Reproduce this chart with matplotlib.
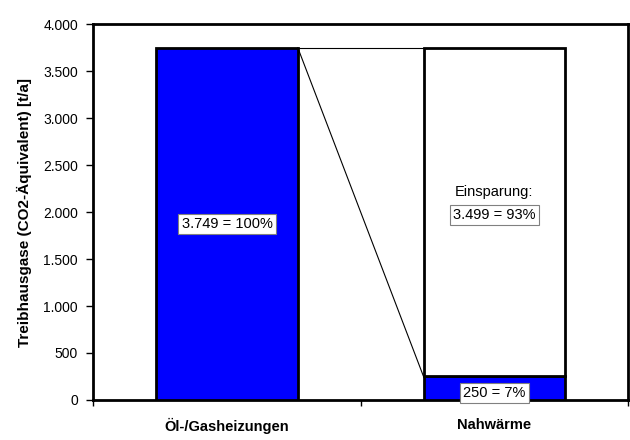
import matplotlib
matplotlib.use("Agg")
import matplotlib.pyplot as plt
from matplotlib.ticker import FuncFormatter, FixedLocator

# Data
categories = ["Öl-/Gasheizungen", "Nahwärme"]
remaining = [3749, 250]          # blue part
savings = [0, 3499]              # white part stacked on top
labels_blue = ["3.749 = 100%", "250 = 7%"]
saving_label = "3.499 = 93%"
saving_title = "Einsparung:"
y_ticks = list(range(0, 4001, 500))

BLUE = "#0000FF"
FONT = "Liberation Sans"
plt.rcParams["font.family"] = [FONT, "DejaVu Sans"]

fig = plt.figure(figsize=(6.3, 4.4), dpi=100)
ax = fig.add_axes([0.148, 0.091, 0.849, 0.854])

x = list(range(len(categories)))
width = 0.53
ax.bar(x, remaining, width=width, color=BLUE, edgecolor="black", linewidth=2, zorder=3)
ax.bar(x[1], savings[1], bottom=remaining[1], width=width, color="white",
       edgecolor="black", linewidth=2, zorder=3)

# series lines connecting the bars
x0 = x[0] + width / 2
x1 = x[1] - width / 2
ax.plot([x0, x1], [remaining[0], remaining[1] + savings[1]], color="black", lw=0.8, zorder=2)
ax.plot([x0, x1], [remaining[0], remaining[1]], color="black", lw=0.8, zorder=2)

box = dict(boxstyle="square,pad=0.22", facecolor="white", edgecolor="#808080", linewidth=0.8)
ax.text(x[0], remaining[0] / 2, labels_blue[0], ha="center", va="center",
        fontsize=10.5, bbox=box, zorder=5)
ax.text(x[1], 75, labels_blue[1], ha="center", va="center",
        fontsize=10.5, bbox=box, zorder=5)
ax.text(x[1], 1970, saving_label, ha="center", va="center",
        fontsize=10.5, bbox=box, zorder=5)
ax.text(x[1], 2210, saving_title, ha="center", va="center", fontsize=10.5, zorder=5)

ax.set_xlim(-0.5, 1.5)
ax.set_ylim(0, 4000)
ax.set_yticks(y_ticks)
ax.yaxis.set_major_formatter(FuncFormatter(lambda v, p: f"{int(v):,}".replace(",", ".")))
ax.tick_params(axis="y", direction="out", length=5, width=1, labelsize=10, pad=6)

ax.set_xticks(x)
ax.set_xticklabels(categories, fontsize=10.5, fontweight="bold")
ax.tick_params(axis="x", which="major", length=0, pad=13)
ax.xaxis.set_minor_locator(FixedLocator([-0.5, 0.5, 1.5]))
ax.tick_params(axis="x", which="minor", direction="out", length=4, width=1)

ax.set_ylabel("Treibhausgase (CO2-Äquivalent) [t/a]", fontsize=11, fontweight="bold", labelpad=8)

for s in ax.spines.values():
    s.set_linewidth(2)
    s.set_color("black")

fig.savefig("out.png", dpi=100)
